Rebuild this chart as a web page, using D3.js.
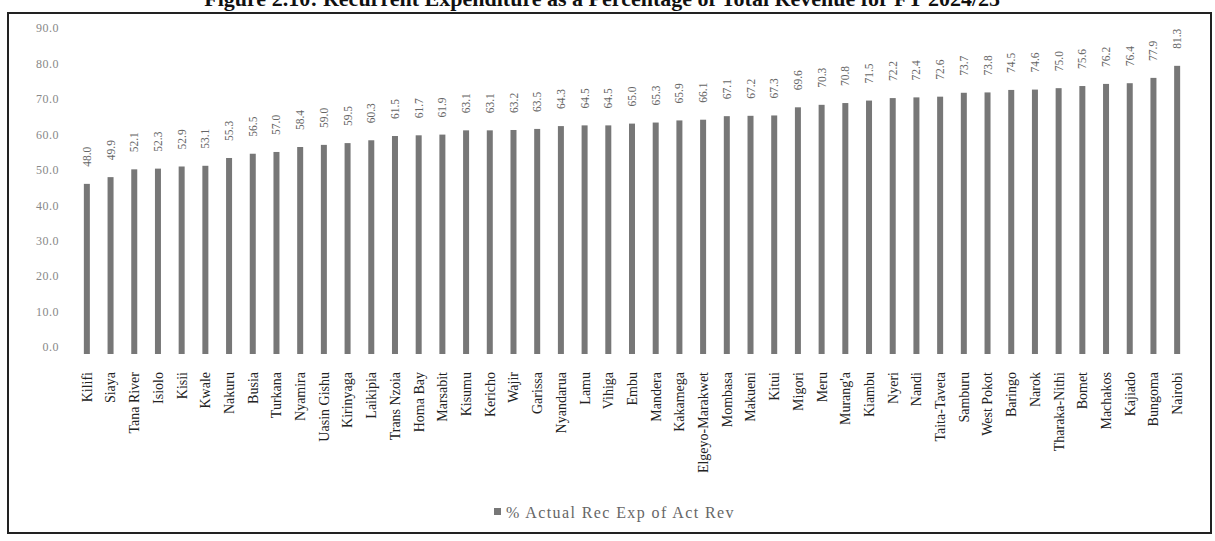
<!DOCTYPE html>
<html lang="en">
<head>
  <meta charset="UTF-8">
  <title>Recurrent Expenditure as a Percentage of Total Revenue</title>
  <script src="https://d3js.org/d3.v7.min.js"></script>
  <style>
    body { margin: 0; background: #fff; }
    svg { display: block; }
  </style>
</head>
<body>
  <div id="chart"></div>

  <script>
    // counties, sorted as in the figure
    const counties = [
      'Kilifi', 'Siaya', 'Tana River', 'Isiolo', 'Kisii', 'Kwale', 'Nakuru', 'Busia',
      'Turkana', 'Nyamira', 'Uasin Gishu', 'Kirinyaga', 'Laikipia', 'Trans Nzoia',
      'Homa Bay', 'Marsabit', 'Kisumu', 'Kericho', 'Wajir', 'Garissa', 'Nyandarua',
      'Lamu', 'Vihiga', 'Embu', 'Mandera', 'Kakamega', 'Elgeyo-Marakwet', 'Mombasa',
      'Makueni', 'Kitui', 'Migori', 'Meru', "Murang'a", 'Kiambu', 'Nyeri', 'Nandi',
      'Taita-Taveta', 'Samburu', 'West Pokot', 'Baringo', 'Narok', 'Tharaka-Nithi',
      'Bomet', 'Machakos', 'Kajiado', 'Bungoma', 'Nairobi'
    ];

    // % actual recurrent expenditure of actual revenue
    const values = [
      48.0, 49.9, 52.1, 52.3, 52.9, 53.1, 55.3, 56.5,
      57.0, 58.4, 59.0, 59.5, 60.3, 61.5,
      61.7, 61.9, 63.1, 63.1, 63.2, 63.5, 64.3,
      64.5, 64.5, 65.0, 65.3, 65.9, 66.1, 67.1,
      67.2, 67.3, 69.6, 70.3, 70.8, 71.5, 72.2, 72.4,
      72.6, 73.7, 73.8, 74.5, 74.6, 75.0,
      75.6, 76.2, 76.4, 77.9, 81.3
    ];

    const yTicks = [0, 10, 20, 30, 40, 50, 60, 70, 80, 90];
    const seriesName = '% Actual Rec Exp of Act Rev';
    const title = 'Figure 2.10: Recurrent Expenditure as a Percentage of Total Revenue for FY 2024/25';

    const data = counties.map((c, i) => ({ name: c, value: values[i] }));

    const width = 1215, height = 541;
    const serif = '"Liberation Serif", "DejaVu Serif", serif';

    const svg = d3.select('#chart')
      .append('svg')
      .attr('width', width)
      .attr('height', height);

    svg.append('rect')
      .attr('width', width)
      .attr('height', height)
      .attr('fill', '#fff');

    // title, cut off by the top of the scan like in the original
    svg.append('text')
      .attr('x', 1000)
      .attr('y', 6)
      .attr('text-anchor', 'end')
      .attr('font-family', serif)
      .attr('font-weight', 'bold')
      .attr('font-size', 22)
      .attr('fill', '#111')
      .text(title);

    // frame
    svg.append('rect')
      .attr('x', 8)
      .attr('y', 13)
      .attr('width', 1203)
      .attr('height', 520)
      .attr('fill', 'none')
      .attr('stroke', '#222')
      .attr('stroke-width', 2);

    const x = d3.scalePoint()
      .domain(counties)
      .range([75, 1189])
      .padding(0.5);

    const y = d3.scaleLinear()
      .domain([0, 90])
      .range([354, 35]);

    const barW = 6;

    // y axis: labels only, no line
    const yAxis = svg.append('g')
      .attr('transform', 'translate(62,-7)')
      .call(d3.axisLeft(y).tickValues(yTicks).tickFormat(d3.format('.1f')).tickSize(0).tickPadding(3));
    yAxis.select('.domain').remove();
    yAxis.selectAll('text')
      .attr('font-family', serif)
      .attr('font-size', 12)
      .attr('letter-spacing', 0.5)
      .attr('fill', '#888');

    // bars
    svg.selectAll('rect.bar')
      .data(data)
      .enter()
      .append('rect')
      .attr('class', 'bar')
      .attr('x', d => x(d.name) - barW / 2)
      .attr('y', d => y(d.value))
      .attr('width', barW)
      .attr('height', d => y(0) - y(d.value))
      .attr('fill', '#777');

    // value labels
    svg.selectAll('text.val')
      .data(data)
      .enter()
      .append('text')
      .attr('class', 'val')
      .attr('transform', d => `translate(${x(d.name)},${y(d.value) - 17}) rotate(-90)`)
      .attr('dy', '0.35em')
      .attr('font-family', serif)
      .attr('font-size', 11.5)
      .attr('fill', '#666')
      .text(d => d3.format('.1f')(d.value));

    // category labels
    svg.selectAll('text.cat')
      .data(data)
      .enter()
      .append('text')
      .attr('class', 'cat')
      .attr('transform', d => `translate(${x(d.name)},372) rotate(-90)`)
      .attr('dy', '0.35em')
      .attr('text-anchor', 'end')
      .attr('font-family', serif)
      .attr('font-size', 14)
      .attr('fill', '#222')
      .text(d => d.name);

    // legend
    const legend = svg.append('g').attr('transform', 'translate(494,512)');
    legend.append('rect')
      .attr('x', 0)
      .attr('y', -4)
      .attr('width', 7)
      .attr('height', 7)
      .attr('fill', '#777');
    legend.append('text')
      .attr('x', 12)
      .attr('dy', '0.35em')
      .attr('font-family', serif)
      .attr('font-size', 16)
      .attr('letter-spacing', 1.4)
      .attr('fill', '#666')
      .text(seriesName);
  </script>
</body>
</html>
